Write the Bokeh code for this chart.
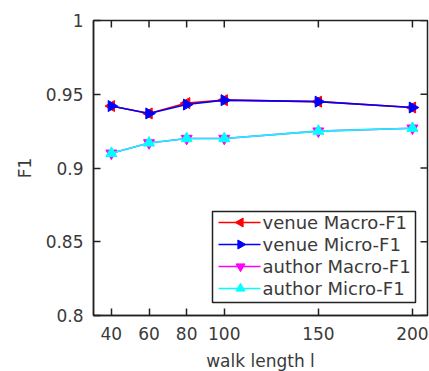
import math
from bokeh.plotting import figure
from bokeh.models import FixedTicker, Range1d, ColumnDataSource
from bokeh.core.properties import value
from bokeh.embed import file_html
from bokeh.resources import INLINE

walk_length = [40, 60, 80, 100, 150, 200]
venue_macro = [0.942, 0.937, 0.944, 0.946, 0.945, 0.941]
venue_micro = [0.942, 0.937, 0.943, 0.946, 0.945, 0.941]
author_macro = [0.910, 0.917, 0.920, 0.920, 0.925, 0.927]
author_micro = [0.910, 0.917, 0.920, 0.920, 0.925, 0.927]
series_names = ["venue Macro-F1", "venue Micro-F1", "author Macro-F1", "author Micro-F1"]
x_ticks = [40, 60, 80, 100, 150, 200]
y_ticks = [0.8, 0.85, 0.9, 0.95, 1.0]
y_tick_labels = {0.8: "0.8", 0.85: "0.85", 0.9: "0.9", 0.95: "0.95", 1.0: "1"}
x_lo, x_hi = 30.5, 208
y_lo, y_hi = 0.8, 1.0

FONT = "DejaVu Sans"
AX = "#222222"
TXT = "#3a3a3a"
FW, FH = 334, 295
TICK = 7

p = figure(width=429, height=371, output_backend="svg", toolbar_location=None,
           frame_width=FW, frame_height=FH,
           x_range=Range1d(x_lo, x_hi), y_range=Range1d(y_lo, y_hi),
           min_border_left=93, min_border_right=2, min_border_top=20,
           min_border_bottom=56)
p.extra_x_ranges = {"px": Range1d(0, FW)}
p.extra_y_ranges = {"py": Range1d(0, FH)}
p.background_fill_color = "white"
p.border_fill_color = "white"
p.grid.visible = False
p.outline_line_color = AX
p.outline_line_width = 1.5

def style_axis(ax):
    ax.axis_line_color = AX
    ax.axis_line_width = 1.5
    ax.major_tick_line_color = AX
    ax.major_tick_line_width = 1.5
    ax.major_tick_in = TICK
    ax.major_tick_out = 0
    ax.minor_tick_line_color = None
    ax.major_label_text_font = FONT
    ax.major_label_text_color = TXT
    ax.major_label_text_font_size = "17px"

xa = p.xaxis[0]
xa.ticker = FixedTicker(ticks=x_ticks)
style_axis(xa)
xa.major_label_standoff = 11
xa.axis_label = "walk length l"
xa.axis_label_text_font = FONT
xa.axis_label_text_font_size = "17px"
xa.axis_label_text_font_style = "normal"
xa.axis_label_text_color = TXT
xa.axis_label_standoff = 8

ya = p.yaxis[0]
ya.ticker = FixedTicker(ticks=y_ticks)
ya.major_label_overrides = y_tick_labels
style_axis(ya)
ya.major_label_standoff = 10
ya.axis_label = "F1"
ya.axis_label_text_font = FONT
ya.axis_label_text_font_size = "17px"
ya.axis_label_text_font_style = "normal"
ya.axis_label_text_color = TXT
ya.axis_label_standoff = 8

# mirrored inward ticks on the top and right edges
p.ray(x=x_ticks, y=[y_hi] * len(x_ticks), length=TICK, length_units="screen",
      angle=-math.pi / 2, line_color=AX, line_width=1.5)
p.ray(x=[x_hi] * len(y_ticks), y=y_ticks, length=TICK, length_units="screen",
      angle=math.pi, line_color=AX, line_width=1.5)

colors = ["#ff0000", "#0000ff", "#ff00ff", "#00ffff"]
markers = ["triangle", "triangle", "inverted_triangle", "triangle"]
angles = [math.pi / 2, -math.pi / 2, 0.0, 0.0]
values = [venue_macro, venue_micro, author_macro, author_micro]

for ys, color, marker, ang in zip(values, colors, markers, angles):
    src = ColumnDataSource(dict(x=walk_length, y=ys, a=[ang] * len(ys)))
    p.line("x", "y", source=src, line_color=color, line_width=1.6)
    p.scatter("x", "y", source=src, marker=marker, angle="a", size=11,
              fill_color=color, line_color=color)

# legend (drawn in frame pixel space)
lg_left, lg_right, lg_bottom, lg_top = 119, 322, 13, 104
row_y = [93, 71, 49, 27]
line_x0, line_x1, mark_x, text_x = 125, 167, 147, 169

p.quad(left=lg_left, right=lg_right, bottom=lg_bottom, top=lg_top,
       fill_color="white", line_color=AX, line_width=1.5,
       x_range_name="px", y_range_name="py")
for i, (color, marker, ang) in enumerate(zip(colors, markers, angles)):
    p.segment(x0=[line_x0], y0=[row_y[i]], x1=[line_x1], y1=[row_y[i]],
              line_color=color, line_width=1.6,
              x_range_name="px", y_range_name="py")
    p.scatter(x=[mark_x], y=[row_y[i]], marker=marker, angle=ang, size=9,
              fill_color=color, line_color=color,
              x_range_name="px", y_range_name="py")
p.text(x=[text_x] * 4, y=row_y, text=series_names,
       text_font=value(FONT), text_font_size="18px", text_color=TXT,
       text_baseline="middle", text_align="left",
       x_range_name="px", y_range_name="py")

open("out.html", "w").write(file_html(p, INLINE))
